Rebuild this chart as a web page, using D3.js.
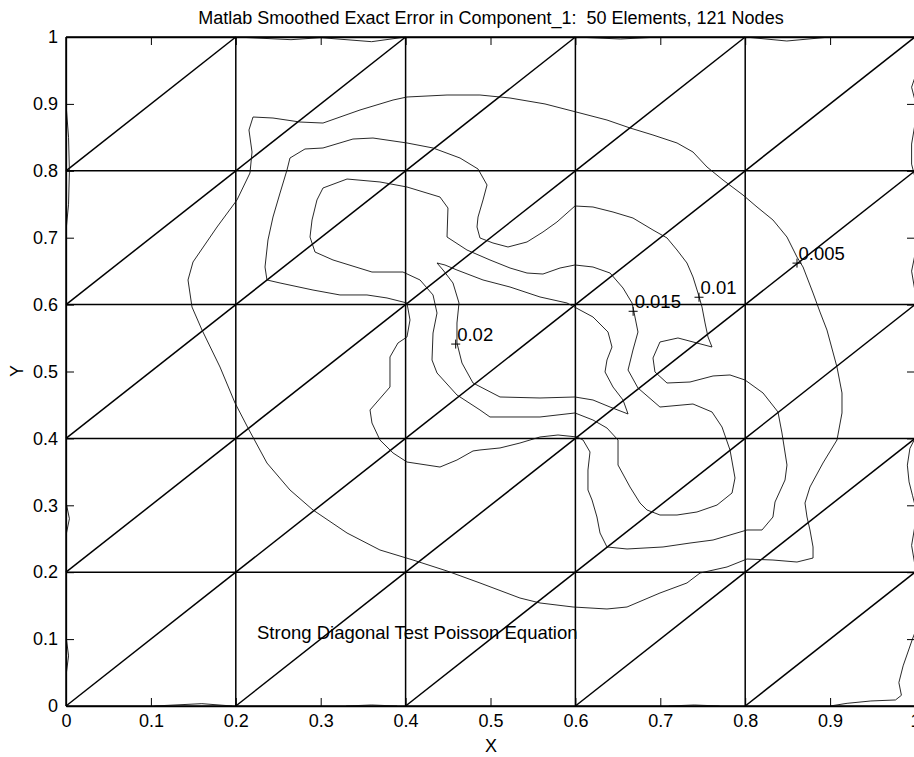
<!DOCTYPE html>
<html><head><meta charset="utf-8">
<script src="https://cdn.jsdelivr.net/npm/d3@7"></script>
<style>
html,body{margin:0;padding:0;background:#fff;}
svg{display:block;}
text{font-family:"Liberation Sans",Arial,Helvetica,sans-serif;fill:#000;}
</style></head><body>
<svg id="chart" width="914" height="757"></svg>
<script>
// ---- text ----
const titleText = "Matlab Smoothed Exact Error in Component_1:  50 Elements, 121 Nodes";
const noteText = "Strong Diagonal Test Poisson Equation";
const notePos = [0.225, 0.11];
const xLabel = "X";
const yLabel = "Y";

// ---- axis ticks ----
const xTicks = [0, 0.1, 0.2, 0.3, 0.4, 0.5, 0.6, 0.7, 0.8, 0.9, 1];
const yTicks = [0, 0.1, 0.2, 0.3, 0.4, 0.5, 0.6, 0.7, 0.8, 0.9, 1];

// ---- finite element mesh: 5x5 squares, each split by a diagonal ----
const meshX = [0, 0.2, 0.4, 0.6, 0.8, 1];
const meshY = [0, 0.2, 0.4, 0.6, 0.8, 1];

// ---- contour levels of the smoothed error, traced as closed polylines ----
const levels = [0.005, 0.01, 0.015, 0.02];

const contour005 = [
  [0.4016,0.9103],[0.3852,0.9058],[0.3463,0.8909],[0.3027,0.8714],[0.2756,0.8729],[0.2438,0.8789],
  [0.2203,0.8804],[0.2155,0.8610],[0.2191,0.8281],[0.2167,0.7967],[0.2014,0.7564],[0.1779,0.7160],
  [0.1496,0.6637],[0.1437,0.6368],[0.1484,0.5964],[0.1602,0.5620],[0.1814,0.5067],[0.1991,0.4529],
  [0.2144,0.4155],[0.2367,0.3632],[0.2638,0.3229],[0.2909,0.2930],[0.3310,0.2586],[0.3698,0.2332],
  [0.4087,0.2182],[0.4488,0.2018],[0.4876,0.1839],[0.5347,0.1614],[0.5583,0.1540],[0.5972,0.1480],
  [0.6372,0.1450],[0.6608,0.1480],[0.6996,0.1689],[0.7314,0.1839],[0.7468,0.1988],[0.7786,0.2078],
  [0.8021,0.2197],[0.8327,0.2182],[0.8610,0.2152],[0.8799,0.2212],[0.8799,0.2377],[0.8763,0.2631],
  [0.8728,0.2825],[0.8704,0.3034],[0.8763,0.3274],[0.8916,0.3632],[0.9081,0.3976],[0.9140,0.4380],
  [0.9140,0.4679],[0.9081,0.5067],[0.8963,0.5620],[0.8881,0.5889],[0.8799,0.6173],[0.8681,0.6562],
  [0.8610,0.6711],[0.8492,0.7010],[0.8327,0.7265],[0.8139,0.7459],[0.7974,0.7638],[0.7739,0.7862],
  [0.7550,0.8057],[0.7385,0.8281],[0.7197,0.8416],[0.6914,0.8535],[0.6643,0.8640],[0.6372,0.8759],
  [0.6054,0.8864],[0.5642,0.8999],[0.5230,0.9088],[0.4876,0.9133],[0.4488,0.9133]
];

const contour010 = [
  [0.2638,0.8191],[0.2815,0.8326],[0.3027,0.8341],[0.3380,0.8475],[0.3616,0.8490],[0.4016,0.8416],
  [0.4323,0.8341],[0.4641,0.8191],[0.4853,0.8027],[0.4959,0.7788],[0.4912,0.7564],[0.4853,0.7309],
  [0.4841,0.7160],[0.4876,0.6996],[0.5029,0.6921],[0.5206,0.6861],[0.5430,0.6936],[0.5618,0.7085],
  [0.5783,0.7235],[0.5995,0.7474],[0.6207,0.7459],[0.6443,0.7384],[0.6678,0.7294],[0.6914,0.7115],
  [0.7079,0.6996],[0.7197,0.6816],[0.7314,0.6622],[0.7385,0.6413],[0.7444,0.6173],[0.7491,0.5964],
  [0.7527,0.5725],[0.7562,0.5516],[0.7609,0.5366],[0.7208,0.5501],[0.6996,0.5441],[0.6914,0.5202],
  [0.6937,0.4993],[0.7079,0.4828],[0.7350,0.4843],[0.7621,0.4933],[0.7821,0.4948],[0.7998,0.4873],
  [0.8210,0.4679],[0.8386,0.4395],[0.8433,0.4081],[0.8492,0.3602],[0.8469,0.3378],[0.8351,0.3049],
  [0.8327,0.2825],[0.8198,0.2631],[0.8021,0.2631],[0.7621,0.2481],[0.7350,0.2436],[0.7032,0.2377],
  [0.6608,0.2347],[0.6372,0.2377],[0.6290,0.2586],[0.6254,0.2825],[0.6196,0.3079],[0.6148,0.3229],
  [0.6148,0.3528],[0.6172,0.3797],[0.6090,0.3976],[0.6019,0.4021],[0.5795,0.4051],[0.5583,0.4021],
  [0.5347,0.3931],[0.5112,0.3857],[0.4876,0.3827],[0.4794,0.3812],[0.4605,0.3677],[0.4405,0.3572],
  [0.4016,0.3647],[0.3852,0.3782],[0.3698,0.3976],[0.3604,0.4230],[0.3581,0.4425],[0.3816,0.4768],
  [0.3816,0.5217],[0.3910,0.5426],[0.4016,0.5516],[0.4052,0.5770],[0.4016,0.6024],[0.3781,0.6099],
  [0.3545,0.6144],[0.3227,0.6144],[0.2909,0.6218],[0.2521,0.6323],[0.2367,0.6368],[0.2344,0.6562],
  [0.2379,0.6966],[0.2438,0.7309],[0.2521,0.7668],[0.2603,0.8012]
];

const contour015 = [
  [0.3310,0.7877],[0.3698,0.7833],[0.4016,0.7758],[0.4405,0.7608],[0.4499,0.7444],[0.4488,0.7010],
  [0.4723,0.6816],[0.4994,0.6667],[0.5230,0.6547],[0.5430,0.6472],[0.5618,0.6457],[0.5819,0.6547],
  [0.5995,0.6592],[0.6207,0.6562],[0.6408,0.6472],[0.6561,0.6248],[0.6667,0.6024],[0.6690,0.5889],
  [0.6737,0.5590],[0.6678,0.5321],[0.6620,0.5022],[0.6737,0.4753],[0.6996,0.4469],[0.7385,0.4514],
  [0.7609,0.4395],[0.7727,0.4170],[0.7821,0.3827],[0.7880,0.3408],[0.7845,0.3184],[0.7668,0.3004],
  [0.7432,0.2900],[0.7197,0.2855],[0.6996,0.2855],[0.6843,0.2930],[0.6761,0.3034],[0.6643,0.3274],
  [0.6502,0.3602],[0.6502,0.3976],[0.6372,0.4155],[0.6207,0.4275],[0.5995,0.4380],[0.5583,0.4320],
  [0.4994,0.4320],[0.4876,0.4425],[0.4605,0.4649],[0.4370,0.4978],[0.4311,0.5172],[0.4323,0.5575],
  [0.4370,0.5874],[0.4323,0.6144],[0.4170,0.6368],[0.3969,0.6487],[0.3604,0.6487],[0.3145,0.6667],
  [0.2933,0.6786],[0.2874,0.7010],[0.2898,0.7265],[0.2956,0.7564],[0.3027,0.7743]
];

const contour020 = [
  [0.4370,0.6622],[0.4464,0.6592],[0.4605,0.6517],[0.4912,0.6368],[0.5230,0.6263],[0.5583,0.6114],
  [0.5901,0.6024],[0.6207,0.5815],[0.6384,0.5590],[0.6431,0.5366],[0.6372,0.5172],[0.6349,0.4993],
  [0.6443,0.4768],[0.6561,0.4574],[0.6620,0.4365],[0.6408,0.4469],[0.6207,0.4574],[0.5995,0.4619],
  [0.5583,0.4604],[0.5112,0.4619],[0.4794,0.4828],[0.4664,0.5127],[0.4605,0.5426],[0.4605,0.5725],
  [0.4629,0.6024],[0.4558,0.6323],[0.4441,0.6517]
];

// near-zero error hugging the Dirichlet boundary (open pieces)
const boundaryContours = [
  [[0.2,1],[0.265,0.996],[0.3,0.999]],
  [[0.3,0.999],[0.36,0.993],[0.4,1]],
  [[0.6,1],[0.653,0.997],[0.7,1]],
  [[0.8,1],[0.849,0.994],[0.9,1]],
  [[0.104,0],[0.16,0.0035],[0.196,0]],
  [[0.33,0],[0.36,0.0015],[0.39,0]],
  [[0.71,0],[0.74,0.0015],[0.77,0]],
  [[0.9,0],[0.92,0.004],[0.948,0.0075],[0.977,0.009],[0.984,0.016],[0.981,0.035],[0.986,0.06],[0.997,0.1],[1,0.11]],
  [[1,0.94],[0.996,0.925],[1,0.905]],
  [[1,0.87],[0.996,0.84],[0.996,0.81],[1,0.79]],
  [[1,0.675],[0.996,0.65],[1,0.62]],
  [[1,0.40],[0.994,0.385],[0.991,0.36],[0.993,0.335],[0.997,0.315],[1,0.30]],
  [[1,0.27],[0.996,0.24],[1,0.21]],
  [[0,0.9],[0.003,0.85],[0.004,0.8],[0.003,0.75],[0,0.71]],
  [[0,0.305],[0.004,0.28],[0,0.255]],
  [[0,0.105],[0.003,0.075],[0,0.045]]
];

// inline contour labels: level text at a point on its curve
const labelLevels = ["0.005", "0.01", "0.015", "0.02"];
const labelX = [0.861, 0.7456, 0.668, 0.459];
const labelY = [0.662, 0.611, 0.590, 0.541];

// ---- layout ----
const svg = d3.select("#chart");
const x = d3.scaleLinear().domain([0, 1]).range([66, 915]);
const y = d3.scaleLinear().domain([0, 1]).range([706, 37]);
const fs = 18;

svg.append("defs").append("clipPath").attr("id", "plotClip")
  .append("rect").attr("x", x(0)).attr("y", y(1))
  .attr("width", x(1) - x(0)).attr("height", y(0) - y(1));

const line = d3.line().x(d => x(d[0])).y(d => y(d[1]));
const closedLine = d3.line().x(d => x(d[0])).y(d => y(d[1])).curve(d3.curveLinearClosed);

// mesh
const meshG = svg.append("g").attr("fill", "none").attr("stroke", "#000").attr("stroke-width", 1.5);
meshY.forEach(v => meshG.append("path").attr("d", line([[0, v], [1, v]])));
meshX.forEach(v => meshG.append("path").attr("d", line([[v, 0], [v, 1]])));
for (let i = 0; i < meshX.length - 1; i++) {
  for (let j = 0; j < meshY.length - 1; j++) {
    meshG.append("path").attr("d", line([[meshX[i], meshY[j]], [meshX[i + 1], meshY[j + 1]]]));
  }
}

// contours
const cG = svg.append("g").attr("clip-path", "url(#plotClip)")
  .attr("fill", "none").attr("stroke", "#111").attr("stroke-width", 0.9);
[contour005, contour010, contour015, contour020].forEach(c => cG.append("path").attr("d", closedLine(c)));
boundaryContours.forEach(c => cG.append("path").attr("d", line(c)));

// axes with inward ticks on all four sides
const fmt = v => (v === 0 ? "0" : v === 1 ? "1" : d3.format(".1f")(v));
const styleAxis = g => {
  g.select(".domain").attr("stroke", "#000").attr("stroke-width", 1.3);
  g.selectAll(".tick line").attr("stroke", "#000").attr("stroke-width", 1);
  g.selectAll(".tick text").attr("font-size", fs).attr("font-family", null).attr("fill", "#000");
};
svg.append("g").attr("transform", `translate(0,${y(0)})`)
  .call(d3.axisBottom(x).tickValues(xTicks).tickFormat(fmt).tickSize(-8).tickSizeOuter(0).tickPadding(8))
  .call(styleAxis);
svg.append("g").attr("transform", `translate(0,${y(1)})`)
  .call(d3.axisTop(x).tickValues(xTicks).tickFormat("").tickSize(-8).tickSizeOuter(0))
  .call(styleAxis);
svg.append("g").attr("transform", `translate(${x(0)},0)`)
  .call(d3.axisLeft(y).tickValues(yTicks).tickFormat(fmt).tickSize(-8).tickSizeOuter(0).tickPadding(8))
  .call(styleAxis);
svg.append("g").attr("transform", `translate(${x(1)},0)`)
  .call(d3.axisRight(y).tickValues(yTicks).tickFormat("").tickSize(-8).tickSizeOuter(0))
  .call(styleAxis);

// contour labels with '+' markers
labelLevels.forEach((t, i) => {
  const px = x(labelX[i]), py = y(labelY[i]);
  svg.append("path").attr("d", `M${px - 4.5},${py}H${px + 4.5}M${px},${py - 4.5}V${py + 4.5}`)
    .attr("stroke", "#000").attr("stroke-width", 1);
  svg.append("text").attr("x", px + 1.5).attr("y", py - 3).attr("font-size", 18.5).text(t);
});

// annotation, title, axis labels
svg.append("text").attr("x", x(notePos[0])).attr("y", y(notePos[1])).attr("dy", "0.35em")
  .attr("font-size", 18.5).text(noteText);
svg.append("text").attr("x", 491).attr("y", 24).attr("text-anchor", "middle")
  .attr("font-size", fs).style("white-space", "pre").text(titleText);
svg.append("text").attr("x", 491).attr("y", 752).attr("text-anchor", "middle")
  .attr("font-size", fs).text(xLabel);
svg.append("text").attr("transform", "translate(23,371) rotate(-90)").attr("text-anchor", "middle")
  .attr("font-size", fs).text(yLabel);
</script>
</body></html>
